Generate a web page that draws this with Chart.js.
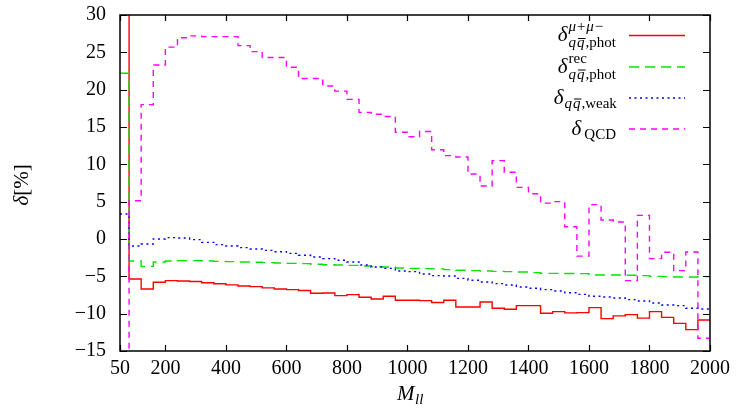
<!DOCTYPE html>
<html><head><meta charset="utf-8">
<script src="https://cdn.jsdelivr.net/npm/chart.js@4/dist/chart.umd.min.js"></script>
<style>html,body{margin:0;padding:0;background:#fff}#wrap{width:737px;height:411px}</style>
</head><body><div id="wrap"><canvas id="c" width="737" height="411"></canvas></div>
<script>
// bin edges in M_ll (first bin 50-80, then 40 GeV bins)
const binEdges = [50,80,120,160,200,240,280,320,360,400,440,480,520,560,600,640,680,720,760,800,840,880,920,960,1000,1040,1080,1120,1160,1200,1240,1280,1320,1360,1400,1440,1480,1520,1560,1600,1640,1680,1720,1760,1800,1840,1880,1920,1960,2000];
const xTicks = [50,200,400,600,800,1000,1200,1400,1600,1800,2000];
const yTicks = [-15,-10,-5,0,5,10,15,20,25,30];
// delta_{qqbar,phot}^{mu+mu-} (first bin off scale, above 30)
const photMuMu = [60,-5.35,-6.7,-5.8,-5.58,-5.62,-5.7,-5.85,-6.0,-6.15,-6.3,-6.38,-6.55,-6.7,-6.78,-6.9,-7.27,-7.23,-7.58,-7.45,-7.8,-8.03,-7.67,-8.2,-8.2,-8.25,-8.5,-8.2,-9.1,-9.1,-8.43,-9.28,-9.41,-8.92,-8.92,-9.95,-9.73,-9.9,-9.86,-9.19,-10.67,-10.3,-10.13,-10.6,-9.73,-10.5,-11.3,-12.14,-10.84];
// delta_{qqbar,phot}^{rec}
const photRec = [22.2,-2.95,-3.66,-3.08,-2.95,-2.9,-2.9,-2.95,-2.99,-3.03,-3.08,-3.12,-3.17,-3.21,-3.26,-3.3,-3.39,-3.44,-3.48,-3.53,-3.61,-3.7,-3.75,-3.88,-3.93,-3.97,-4.0,-4.1,-4.19,-4.24,-4.28,-4.33,-4.37,-4.42,-4.5,-4.6,-4.6,-4.62,-4.64,-4.82,-4.82,-4.82,-4.86,-4.9,-5.0,-5.04,-5.08,-5.08,-5.04];
// delta_{qqbar,weak}
const weak = [3.35,-0.94,-0.67,0.0,0.18,0.13,-0.09,-0.45,-0.76,-0.94,-1.16,-1.34,-1.52,-1.7,-1.92,-2.18,-2.41,-2.63,-2.85,-3.08,-3.48,-3.75,-3.93,-4.28,-4.37,-4.69,-4.91,-4.95,-5.27,-5.53,-5.76,-5.98,-6.16,-6.43,-6.6,-6.78,-6.96,-7.19,-7.41,-7.67,-7.77,-7.9,-8.12,-8.3,-8.57,-8.84,-8.92,-9.28,-9.37];
// delta_QCD (first bin off scale, below -15)
const qcd = [-40,5.13,18.0,23.3,25.7,26.95,27.2,27.1,27.1,27.1,25.9,25.1,24.3,24.3,23.0,21.5,21.5,20.5,19.8,18.7,16.96,16.7,16.4,14.3,13.7,14.4,11.96,11.16,10.98,8.7,7.1,10.5,8.93,6.92,6.07,4.8,5.0,1.65,-2.3,4.6,2.54,2.28,-5.58,3.17,-2.63,-1.78,-4.24,-1.74,-13.3];

function toSteps(vals){
  const pts = vals.map((v,i)=>({x:binEdges[i], y:v}));
  pts.push({x:binEdges[binEdges.length-1], y:vals[vals.length-1]});
  return pts;
}
const SERIF = '"Liberation Serif", "DejaVu Serif", serif';

const styles = [
  {color:'#ff0000', dash:[], width:1.4},
  {color:'#00e600', dash:[10,6], width:1.4},
  {color:'#0000ff', dash:[2,3.5], width:1.4},
  {color:'#ff00ff', dash:[6,5], width:1.4}
];

const overlay = {
  id:'overlay',
  afterDraw(chart){
    const ctx = chart.ctx, a = chart.chartArea;
    const xs = chart.scales.x, ys = chart.scales.y;
    ctx.save();
    // frame
    ctx.strokeStyle = '#000'; ctx.lineWidth = 1.5; ctx.setLineDash([]);
    ctx.strokeRect(a.left, a.top, a.right-a.left, a.bottom-a.top);
    // inward ticks
    ctx.lineWidth = 1.2;
    ctx.beginPath();
    xTicks.forEach(v=>{
      const px = Math.round(xs.getPixelForValue(v))+0.5;
      ctx.moveTo(px, a.bottom); ctx.lineTo(px, a.bottom-6);
      ctx.moveTo(px, a.top); ctx.lineTo(px, a.top+6);
    });
    yTicks.forEach(v=>{
      const py = Math.round(ys.getPixelForValue(v))+0.5;
      ctx.moveTo(a.left, py); ctx.lineTo(a.left+7, py);
      ctx.moveTo(a.right, py); ctx.lineTo(a.right-7, py);
    });
    ctx.stroke();

    // legend
    ctx.fillStyle = '#000';
    ctx.textBaseline = 'alphabetic';
    const rightX = 614;
    const entries = [
      {lineY:35.5, sup:'\u03bc+\u03bc\u2212', sub:'qq,phot', bar:true},
      {lineY:67, sup:'rec', sub:'qq,phot', bar:true},
      {lineY:98, sup:null, sub:'qq,weak', bar:true},
      {lineY:129, sup:null, sub:'QCD', bar:false}
    ];
    entries.forEach((e,i)=>{
      const dBase = e.lineY + 5.5;
      ctx.font = (i===0 ? 'italic ' : '') + '15px ' + SERIF;
      const supW = e.sup ? ctx.measureText(e.sup).width : 0;
      ctx.font = (e.bar ? 'italic ' : '') + '15px ' + SERIF;
      const subW = ctx.measureText(e.sub).width;
      const w = Math.max(supW, subW);
      const x0 = rightX - w;
      // delta
      ctx.font = 'italic 21px ' + SERIF;
      ctx.textAlign = 'right';
      ctx.fillText('\u03b4', x0 - 1, dBase);
      ctx.textAlign = 'left';
      if (e.sup){
        ctx.font = (i===0 ? 'italic ' : '') + '15px ' + SERIF;
        ctx.fillText(e.sup, x0, dBase - 10);
      }
      const subBase = dBase + (e.sup ? 6 : 4);
      if (e.bar){
        ctx.font = 'italic 15px ' + SERIF;
        const qW = ctx.measureText('q').width;
        ctx.fillText('q', x0, subBase);
        ctx.fillText('q', x0 + qW + 1, subBase);
        ctx.font = '15px ' + SERIF;
        ctx.fillText(e.sub.slice(2), x0 + 2*qW + 2, subBase);
        ctx.lineWidth = 1; ctx.strokeStyle = '#000';
        ctx.beginPath();
        ctx.moveTo(x0 + qW + 2, subBase - 8.5);
        ctx.lineTo(x0 + 2*qW + 2, subBase - 8.5);
        ctx.stroke();
      } else {
        ctx.font = '15px ' + SERIF;
        ctx.fillText(e.sub, x0 + 2, subBase);
      }
      // sample line
      const s = styles[i];
      ctx.strokeStyle = s.color; ctx.lineWidth = s.width; ctx.setLineDash(s.dash);
      ctx.beginPath(); ctx.moveTo(629, e.lineY); ctx.lineTo(685, e.lineY); ctx.stroke();
      ctx.setLineDash([]);
    });

    // x-axis title M_ll
    ctx.fillStyle = '#000';
    ctx.textAlign = 'left';
    ctx.font = 'italic 21px ' + SERIF;
    const mW = ctx.measureText('M').width;
    const mx = 397;
    ctx.fillText('M', mx, 400);
    ctx.font = 'italic 15px ' + SERIF;
    ctx.fillText('ll', mx + mW + 0.5, 404);

    // y-axis title delta[%]
    ctx.save();
    ctx.translate(28, 185);
    ctx.rotate(-Math.PI/2);
    ctx.font = 'italic 21px ' + SERIF;
    const dW = ctx.measureText('\u03b4').width;
    ctx.font = '21px ' + SERIF;
    const pW = ctx.measureText('[%]').width;
    const tot = dW + pW;
    ctx.font = 'italic 21px ' + SERIF;
    ctx.fillText('\u03b4', -tot/2, 0);
    ctx.font = '21px ' + SERIF;
    ctx.fillText('[%]', -tot/2 + dW, 0);
    ctx.restore();

    ctx.restore();
  }
};

const labels = ['phot_mumu','phot_rec','weak','qcd'];
const series = [photMuMu, photRec, weak, qcd];
const datasets = series.map((vals,i)=>({
  label: labels[i],
  data: toSteps(vals),
  borderColor: styles[i].color,
  borderWidth: styles[i].width,
  borderDash: styles[i].dash,
  pointRadius: 0,
  fill: false,
  stepped: true,
  tension: 0,
  order: 4 - i
}));

new Chart(document.getElementById('c'), {
  type: 'line',
  data: { datasets },
  options: {
    responsive: false,
    animation: false,
    devicePixelRatio: 1,
    layout: { padding: { left: 0, right: 27, top: 15, bottom: 0 } },
    plugins: { legend: { display: false }, tooltip: { enabled: false } },
    scales: {
      x: {
        type: 'linear', min: 50, max: 2000,
        afterBuildTicks: s => { s.ticks = xTicks.map(v => ({ value: v })); },
        afterFit: s => { s.height = 60; s.paddingLeft = 0; s.paddingRight = 0; s.paddingTop = 0; s.paddingBottom = 0; },
        grid: { display: false, drawTicks: false },
        border: { display: false },
        ticks: { padding: 6, color: '#000', font: { family: SERIF, size: 20 }, maxRotation: 0, autoSkip: false, callback: v => String(v) }
      },
      y: {
        type: 'linear', min: -15, max: 30,
        afterBuildTicks: s => { s.ticks = yTicks.map(v => ({ value: v })); },
        afterFit: s => { s.width = 120; s.paddingTop = 0; s.paddingBottom = 0; s.paddingLeft = 0; s.paddingRight = 0; },
        grid: { display: false, drawTicks: false },
        border: { display: false },
        ticks: { padding: 14, color: '#000', font: { family: SERIF, size: 20 }, callback: v => v < 0 ? '\u2212' + Math.abs(v) : String(v) }
      }
    }
  },
  plugins: [overlay]
});
</script>
</body></html>
